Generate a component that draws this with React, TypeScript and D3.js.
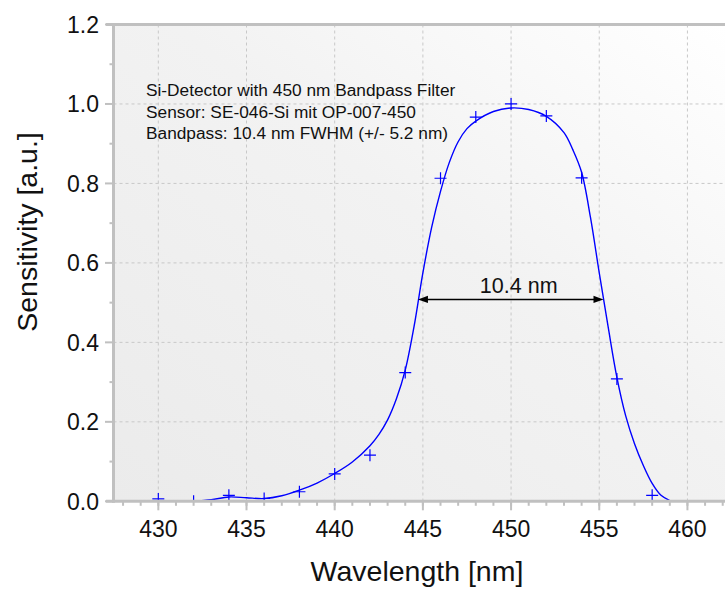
import React from "react";
import * as d3 from "d3";

const W = 725;
const H = 589;

const xTicks = [430, 435, 440, 445, 450, 455, 460];
const xMinorTicks = d3.range(428, 463, 1);
const yTicks = [0, 0.2, 0.4, 0.6, 0.8, 1.0, 1.2];
const yTickLabels = ["0.0", "0.2", "0.4", "0.6", "0.8", "1.0", "1.2"];
const yMinorTicks = [0.1, 0.3, 0.5, 0.7, 0.9, 1.1];
const xGrid = [430, 435, 440, 445, 450, 455, 460];
const yGrid = [0.2, 0.4, 0.6, 0.8, 1.0];

const markerWl = [430, 432, 434, 436, 438, 440, 442, 444, 446, 448, 450, 452, 454, 456, 458];
const markerVal = [0.006, 0.0, 0.015, 0.007, 0.024, 0.069, 0.116, 0.324, 0.813, 0.967, 1.0, 0.97, 0.814, 0.308, 0.015];

const curveWl = [432, 433, 434, 435, 436, 437, 438, 439, 440, 441, 442, 442.5, 443, 443.5, 444, 444.5, 445, 445.5, 446, 446.5, 447, 447.5, 448, 449, 450, 451, 452, 453, 453.5, 454, 454.5, 455, 455.5, 456, 456.5, 457, 457.5, 458, 458.5, 459, 459.1];
const curveVal = [0.0, 0.004, 0.011, 0.009, 0.007, 0.014, 0.028, 0.046, 0.07, 0.099, 0.14, 0.168, 0.205, 0.258, 0.33, 0.44, 0.575, 0.69, 0.78, 0.853, 0.905, 0.938, 0.957, 0.981, 0.99, 0.986, 0.969, 0.928, 0.885, 0.828, 0.715, 0.575, 0.44, 0.312, 0.215, 0.145, 0.09, 0.045, 0.015, 0.002, 0.0];

const legendLines = [
  "Si-Detector with 450 nm Bandpass Filter",
  "Sensor: SE-046-Si mit OP-007-450",
  "Bandpass: 10.4 nm FWHM (+/- 5.2 nm)",
];

const fwhmLeft = 444.72;
const fwhmRight = 455.24;
const fwhmLevel = 0.508;
const fwhmLabel = "10.4 nm";

const xTitle = "Wavelength [nm]";
const yTitle = "Sensitivity [a.u.]";

const FONT = "'Liberation Sans', Arial, Helvetica, sans-serif";

export default function App() {
  const left = 113.5;
  const top = 24.5;
  const bottom = 501.3;
  const right = W;

  const x = d3.scaleLinear().domain([427.43, 462.13]).range([113, 725]);
  const y = d3.scaleLinear().domain([0, 1.2]).range([bottom, top]);

  const curvePts: [number, number][] = curveWl.map((w, i) => [w, curveVal[i]]);
  const line = d3
    .line<[number, number]>()
    .x((d) => x(d[0]))
    .y((d) => y(d[1]))
    .curve(d3.curveCatmullRom.alpha(0.5));

  const axisColor = "#c0c0c0";
  const gridColor = "#c8c8c8";
  const blue = "#0000ff";

  const ay = y(fwhmLevel);
  const ax1 = x(fwhmLeft);
  const ax2 = x(fwhmRight);
  const ahL = 10;
  const ahW = 3.6;

  return (
    <svg
      width={W}
      height={H}
      style={{ position: "absolute", left: 0, top: 0, background: "#ffffff" }}
      fontFamily={FONT}
    >
      <defs>
        <linearGradient id="bg" x1="1" y1="0" x2="0" y2="1">
          <stop offset="0" stopColor="#ffffff" />
          <stop offset="0.45" stopColor="#f2f2f2" />
          <stop offset="1" stopColor="#ebebeb" />
        </linearGradient>
        <clipPath id="plotClip">
          <rect x={left} y={top} width={right - left} height={bottom - top} />
        </clipPath>
      </defs>

      <rect x={left} y={top} width={right - left} height={bottom - top} fill="url(#bg)" />

      {/* grid */}
      <g stroke={gridColor} strokeWidth={1} strokeDasharray="3,3">
        {xGrid.map((v) => (
          <line key={"gx" + v} x1={x(v)} x2={x(v)} y1={top} y2={bottom} />
        ))}
        {yGrid.map((v) => (
          <line key={"gy" + v} x1={left} x2={right} y1={y(v)} y2={y(v)} />
        ))}
      </g>

      {/* legend text */}
      <g fontSize={17.3} fill="#111">
        {legendLines.map((t, i) => (
          <text key={t} x={146} y={96 + i * 21.6}>
            {t}
          </text>
        ))}
      </g>

      {/* curve */}
      <g clipPath="url(#plotClip)">
        <path d={line(curvePts) || ""} fill="none" stroke={blue} strokeWidth={1.4} />
        {markerWl.map((w, i) => {
          const cx = x(w);
          const cy = y(markerVal[i]);
          return (
            <g key={"m" + w} stroke={blue} strokeWidth={1.2}>
              <line x1={cx - 6} x2={cx + 6} y1={cy} y2={cy} />
              <line x1={cx} x2={cx} y1={cy - 6} y2={cy + 6} />
            </g>
          );
        })}
      </g>

      {/* FWHM arrow */}
      <g>
        <line x1={ax1 + ahL - 1} x2={ax2 - ahL + 1} y1={ay} y2={ay} stroke="#000" strokeWidth={1.6} />
        <path d={`M${ax1},${ay}L${ax1 + ahL},${ay - ahW}L${ax1 + ahL},${ay + ahW}Z`} fill="#000" />
        <path d={`M${ax2},${ay}L${ax2 - ahL},${ay - ahW}L${ax2 - ahL},${ay + ahW}Z`} fill="#000" />
        <text x={(ax1 + ax2) / 2 + 8} y={ay - 6} fontSize={21.5} textAnchor="middle" fill="#111">
          {fwhmLabel}
        </text>
      </g>

      {/* axes */}
      <g stroke={axisColor}>
        <line x1={left} x2={left} y1={top - 1.5} y2={bottom + 1.5} strokeWidth={3} />
        <line x1={106} x2={right} y1={bottom} y2={bottom} strokeWidth={3} />
        <line x1={106} x2={right} y1={top} y2={top} strokeWidth={3} />
        {yTicks.map((v) => (
          <line key={"yt" + v} x1={105} x2={left} y1={y(v)} y2={y(v)} strokeWidth={2} />
        ))}
        {yMinorTicks.map((v) => (
          <line key={"ym" + v} x1={109.5} x2={left} y1={y(v)} y2={y(v)} strokeWidth={2} />
        ))}
        {xMinorTicks.map((v) => (
          <line key={"xm" + v} x1={x(v)} x2={x(v)} y1={bottom} y2={bottom + 4.5} strokeWidth={2} />
        ))}
        {xTicks.map((v) => (
          <line key={"xt" + v} x1={x(v)} x2={x(v)} y1={bottom} y2={bottom + 9} strokeWidth={2} />
        ))}
      </g>

      {/* tick labels */}
      <g fontSize={23} fill="#111">
        {yTicks.map((v, i) => (
          <text key={"yl" + v} x={99} y={y(v)} dy="0.36em" textAnchor="end">
            {yTickLabels[i]}
          </text>
        ))}
        {xTicks.map((v) => (
          <text key={"xl" + v} x={x(v)} y={537} textAnchor="middle">
            {v}
          </text>
        ))}
      </g>

      {/* axis titles */}
      <text x={417} y={581} fontSize={28.5} textAnchor="middle" fill="#111">
        {xTitle}
      </text>
      <text
        transform={`translate(37,${232}) rotate(-90)`}
        fontSize={28.5}
        textAnchor="middle"
        fill="#111"
      >
        {yTitle}
      </text>
    </svg>
  );
}
